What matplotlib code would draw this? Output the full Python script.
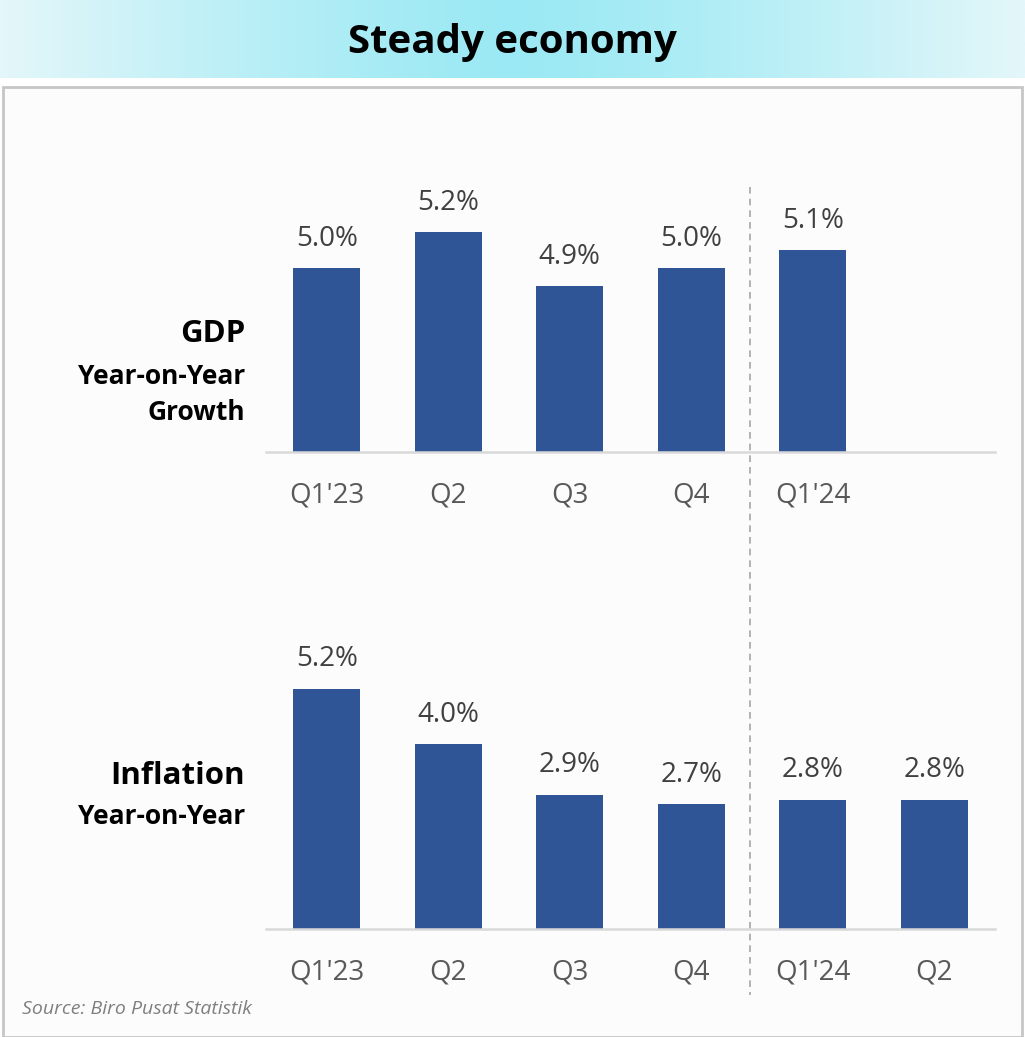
import numpy as np
import matplotlib
matplotlib.use("Agg")
import matplotlib.pyplot as plt
from matplotlib.patches import Rectangle
from matplotlib.lines import Line2D

plt.rcParams['font.family'] = ['Open Sans', 'DejaVu Sans']

title = "Steady economy"
gdp_labels = ["Q1'23", "Q2", "Q3", "Q4", "Q1'24"]
gdp_values = [5.0, 5.2, 4.9, 5.0, 5.1]
infl_labels = ["Q1'23", "Q2", "Q3", "Q4", "Q1'24", "Q2"]
infl_values = [5.2, 4.0, 2.9, 2.7, 2.8, 2.8]
source = "Source: Biro Pusat Statistik"

W, H = 1025, 1037
fig = plt.figure(figsize=(W / 100, H / 100), dpi=100)
fig.patch.set_facecolor("white")

# background layer
bg = fig.add_axes([0, 0, 1, 1])
bg.set_xlim(0, W)
bg.set_ylim(H, 0)
bg.axis("off")
# title gradient band
t = np.linspace(0, 1, 400)
d = np.abs(t - 0.5) * 2
c_center = np.array([0x9B, 0xE9, 0xF4]) / 255
c_edge = np.array([0xE4, 0xF7, 0xFA]) / 255
grad = (c_center[None, :] * (1 - d[:, None] ** 1.3) + c_edge[None, :] * d[:, None] ** 1.3)
bg.imshow(grad[None, :, :], extent=[0, W, 78, 0], aspect="auto", zorder=0)
# panel
bg.add_patch(Rectangle((3, 87), W - 6, H - 87, facecolor="#fcfcfc",
                       edgecolor="#c6c6c6", linewidth=2, zorder=1))
bg.text(W / 2, 43, title, ha="center", va="center", fontsize=29,
        fontweight="bold", color="black", zorder=3)

bar_color = "#2F5597"
label_color = "#404040"
tick_color = "#595959"


def draw(ax_rect, labels, values, ylim):
    ax = fig.add_axes(ax_rect)
    ax.patch.set_alpha(0)
    x = np.arange(len(labels))
    ax.bar(x, [v - ylim[0] for v in values], bottom=ylim[0], width=0.55,
           color=bar_color, zorder=2)
    ax.set_xlim(-0.5, 5.5)
    ax.set_ylim(*ylim)
    for xi, v in zip(x, values):
        ax.annotate(f"{v:.1f}%", (xi, v), xytext=(0, 21.5), textcoords="offset points",
                    ha="center", va="center", fontsize=20, color=label_color)
    for s in ["top", "right", "left"]:
        ax.spines[s].set_visible(False)
    ax.spines["bottom"].set_color("#d9d9d9")
    ax.spines["bottom"].set_linewidth(1.8)
    ax.set_yticks([])
    ax.set_xticks(x)
    ax.set_xticklabels(labels, fontsize=20, color=tick_color)
    ax.tick_params(axis="x", length=0, pad=21)
    return ax


ax1 = draw([266 / W, (H - 452) / H, 729 / W, 300 / H], gdp_labels, gdp_values, (3.98, 3.98 + 300 / 180))
ax2 = draw([266 / W, (H - 929) / H, 729 / W, 300 / H], infl_labels, infl_values, (0, 300 / 46.15))

# dashed divider
bg.add_line(Line2D([750, 750], [187, 995], color="#a6a6a6", linewidth=1.2,
                   linestyle=(0, (4, 3)), zorder=3))

# side labels
bg.text(245, 334, "GDP", ha="right", va="center", fontsize=22.5, fontweight="bold", color="black")
bg.text(245, 376, "Year-on-Year", ha="right", va="center", fontsize=19, fontweight="bold", color="black")
bg.text(245, 413, "Growth", ha="right", va="center", fontsize=19, fontweight="bold", color="black")
bg.text(245, 776, "Inflation", ha="right", va="center", fontsize=22.5, fontweight="bold", color="black")
bg.text(245, 817, "Year-on-Year", ha="right", va="center", fontsize=19, fontweight="bold", color="black")

bg.text(22, 1009, source, ha="left", va="center", fontsize=14, style="italic", color="#7f7f7f")

fig.savefig("out.png", dpi=100)
